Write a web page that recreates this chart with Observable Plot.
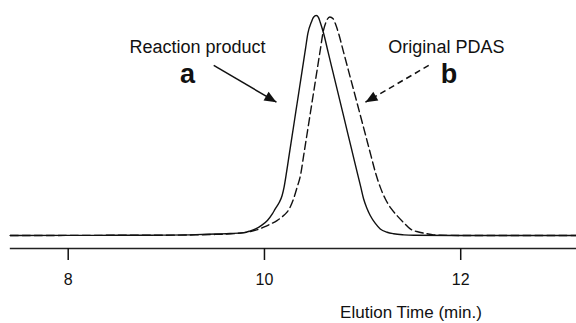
<!DOCTYPE html>
<html><head><meta charset="utf-8">
<script src="https://cdn.jsdelivr.net/npm/d3@7"></script>
<script src="https://cdn.jsdelivr.net/npm/@observablehq/plot@0.6"></script>
<style>
html,body{margin:0;padding:0;background:#fff;overflow:hidden}
#chart svg{display:block}
</style>
</head><body><div id="chart"></div>
<script>
// Reaction product (curve a, solid)
const productTime = [7.41, 8.0, 8.5, 9.0, 9.3, 9.5, 9.65, 9.79, 9.85, 9.91, 9.97, 10.03, 10.08, 10.11, 10.15, 10.18, 10.20, 10.22, 10.245, 10.27, 10.295, 10.32, 10.345, 10.37, 10.395, 10.42, 10.442, 10.478, 10.50, 10.528, 10.55, 10.569, 10.603, 10.65, 10.70, 10.75, 10.80, 10.85, 10.90, 10.95, 10.98, 11.01, 11.045, 11.078, 11.13, 11.18, 11.25, 11.316, 11.42, 11.52, 12.0, 13.18];
const productSignal = [0.0, 0.05, 0.1, 0.2, 0.4, 0.7, 0.9, 1.3, 2.0, 3.0, 4.6, 6.8, 9.8, 12.1, 15.0, 18.2, 22.0, 27.3, 34.6, 41.9, 49.1, 56.4, 63.6, 70.9, 78.1, 85.4, 91.8, 97.0, 99.2, 100, 99.2, 96.8, 91.8, 83.1, 73.9, 64.7, 55.5, 46.2, 37.0, 27.8, 22.3, 16.7, 12.3, 9.1, 5.5, 3.0, 1.5, 0.8, 0.3, 0.1, 0.0, 0.0];

// Original PDAS (curve b, dashed)
const pdasTime = [7.41, 8.0, 8.5, 9.0, 9.3, 9.5, 9.7, 9.857, 9.93, 9.992, 10.06, 10.128, 10.18, 10.23, 10.265, 10.297, 10.33, 10.37, 10.40, 10.43, 10.46, 10.49, 10.52, 10.55, 10.575, 10.595, 10.63, 10.666, 10.70, 10.725, 10.756, 10.80, 10.85, 10.90, 10.95, 11.00, 11.05, 11.09, 11.13, 11.18, 11.231, 11.29, 11.35, 11.42, 11.486, 11.57, 11.656, 11.72, 11.79, 12.2, 13.18];
const pdasSignal = [0.0, 0.05, 0.1, 0.15, 0.3, 0.5, 0.9, 1.8, 2.7, 3.8, 5.2, 6.8, 8.5, 10.6, 13.2, 16.7, 21.5, 28.0, 36.5, 45.0, 53.5, 62.0, 70.5, 79.0, 86.1, 91.8, 97.3, 99.3, 98.5, 96.0, 91.8, 84.4, 76.0, 67.6, 59.2, 50.8, 42.3, 35.5, 28.8, 22.0, 16.7, 12.3, 9.1, 5.8, 3.0, 1.6, 0.8, 0.3, 0.1, 0.0, 0.0];

const xTicks = [8, 10, 12];
const seriesNames = ["Reaction product", "Original PDAS"];
const seriesLetters = ["a", "b"];
const axisTitle = "Elution Time (min.)";

// layout
const W = 576, H = 323;
const mTop = 15, mBottom = 75;
const xDomain = [7.31, 13.18];
const axisLevel = -5.9;
const yDomain = [axisLevel, 100];
const FONT = "Arial, 'Liberation Sans', Helvetica, sans-serif";

const product = productTime.map((t, i) => ({t, v: productSignal[i]}));
const pdas = pdasTime.map((t, i) => ({t, v: pdasSignal[i]}));

// annotation placement (data coordinates)
const nameLabels = [
  {text: seriesNames[0], x: 9.317, y: 82.9},
  {text: seriesNames[1], x: 11.854, y: 82.9}
];
const letterLabels = [
  {text: seriesLetters[0], x: 9.217, y: 69.1},
  {text: seriesLetters[1], x: 11.880, y: 69.1}
];
const titlePos = {x: 11.493, y: -37.7};
const sx = W / (xDomain[1] - xDomain[0]);
const sy = (H - mBottom - mTop) / (yDomain[1] - yDomain[0]);
const arrows = [
  {x1: 9.483, y1: 77.3, x2: 10.122, y2: 60.6, dash: null},
  {x1: 11.674, y1: 77.3, x2: 11.029, y2: 60.6, dash: "6,4"}
].map(a => {
  const dx = (a.x2 - a.x1) * sx, dy = -(a.y2 - a.y1) * sy;
  return {...a, rot: Math.atan2(dx, -dy) * 180 / Math.PI};
});
const headShape = {
  draw(ctx, l, r) {
    ctx.moveTo(0, -l);
    ctx.lineTo(-r, 0);
    ctx.lineTo(r, 0);
    ctx.closePath();
  }
};

const plot = Plot.plot({
  width: W,
  height: H,
  marginLeft: 0,
  marginRight: 0,
  marginTop: mTop,
  marginBottom: mBottom,
  style: {fontFamily: FONT, fontSize: "16px", color: "#111", background: "#fff"},
  x: {domain: xDomain},
  y: {domain: yDomain, axis: null},
  marks: [
    Plot.ruleY([axisLevel], {x1: xDomain[0] + 0.1, x2: xDomain[1], stroke: "#222", strokeWidth: 1.5}),
    Plot.axisX({ticks: xTicks, tickSize: 12, tickPadding: 13, strokeWidth: 1.5, label: null, fontSize: 16, tickFormat: d => String(d)}),
    Plot.line(pdas, {x: "t", y: "v", curve: "monotone-x", stroke: "#111", strokeWidth: 1.4, strokeDasharray: "8,4"}),
    Plot.line(product, {x: "t", y: "v", curve: "monotone-x", stroke: "#111", strokeWidth: 1.4}),
    Plot.link(arrows.filter(a => !a.dash), {x1: "x1", y1: "y1", x2: "x2", y2: "y2", stroke: "#111", strokeWidth: 1.5}),
    Plot.link(arrows.filter(a => a.dash), {x1: "x1", y1: "y1", x2: "x2", y2: "y2", stroke: "#111", strokeWidth: 1.5, strokeDasharray: "6,4"}),
    Plot.vector(arrows, {x: "x2", y: "y2", rotate: "rot", length: 12, r: 5, anchor: "end", shape: headShape, fill: "#111", stroke: "none"}),
    Plot.text(nameLabels, {x: "x", y: "y", text: "text", lineAnchor: "bottom", textAnchor: "middle", fontSize: 18, fill: "#111"}),
    Plot.text(letterLabels, {x: "x", y: "y", text: "text", lineAnchor: "bottom", textAnchor: "middle", fontSize: 27, fontWeight: "bold", fill: "#111"}),
    Plot.text([axisTitle], {x: () => titlePos.x, y: () => titlePos.y, text: d => d, lineAnchor: "bottom", textAnchor: "middle", fontSize: 17, fill: "#111"})
  ]
});
document.getElementById("chart").appendChild(plot);
</script>
</body></html>
